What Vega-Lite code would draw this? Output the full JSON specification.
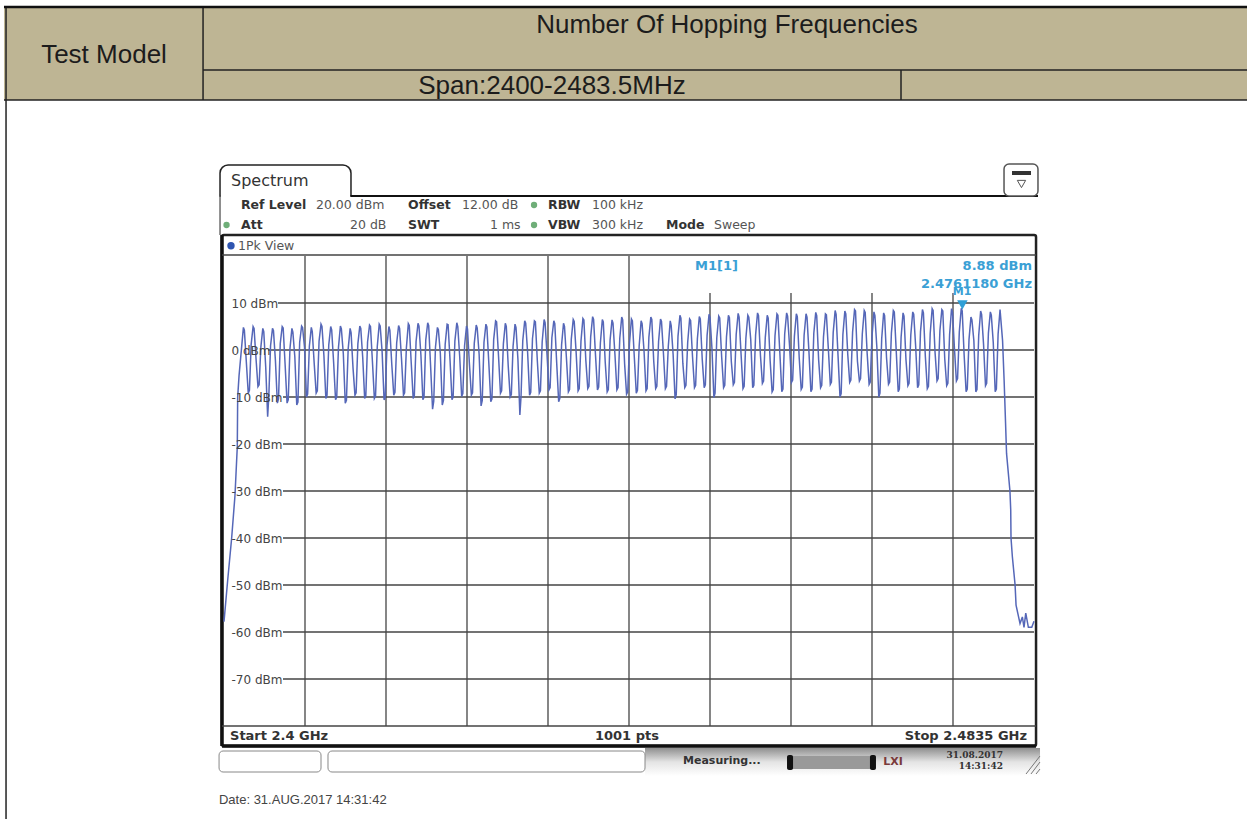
{"$schema":"https://vega.github.io/schema/vega-lite/v6.json","width":810,"height":470,"autosize":{"type":"none"},"padding":{"left":224,"top":256,"right":213,"bottom":93},"background":"#ffffff","view":{"stroke":null},
"datasets":{
"trace":[{"f":2.4,"p":-57.8},{"f":2.40038,"p":-49},{"f":2.40079,"p":-40},{"f":2.40113,"p":-31},{"f":2.40137,"p":-20.6},{"f":2.40141,"p":-10},{"f":2.40155,"p":-5.5},
{"f":2.402,"p":4.8},{"f":2.4021,"p":4.2},{"f":2.4023,"p":-2.5},{"f":2.4025,"p":-9.2},{"f":2.40262,"p":-8.6},{"f":2.4028,"p":1.2},
{"f":2.403,"p":5.0},{"f":2.4031,"p":4.6},{"f":2.4033,"p":-1.8},{"f":2.4035,"p":-7.8},{"f":2.40362,"p":-7.4},{"f":2.4038,"p":0.6},
{"f":2.404,"p":4.6},{"f":2.4041,"p":3.9},{"f":2.4043,"p":-3.6},{"f":2.4045,"p":-14.2},{"f":2.40462,"p":-9.8},{"f":2.4048,"p":0.9},
{"f":2.405,"p":4.6},{"f":2.4051,"p":4.1},{"f":2.4053,"p":-2.2},{"f":2.4055,"p":-11.3},{"f":2.40562,"p":-10.4},{"f":2.4058,"p":1.4},
{"f":2.406,"p":5.0},{"f":2.4061,"p":4.7},{"f":2.4063,"p":-3.1},{"f":2.4065,"p":-11.3},{"f":2.40662,"p":-10.6},{"f":2.4068,"p":0.3},
{"f":2.407,"p":4.6},{"f":2.4071,"p":3.8},{"f":2.4073,"p":-1.4},{"f":2.4075,"p":-11.7},{"f":2.40762,"p":-11.1},{"f":2.4078,"p":1.6},
{"f":2.408,"p":5.1},{"f":2.4081,"p":4.8},{"f":2.4083,"p":0.6},{"f":2.4085,"p":-10},{"f":2.40862,"p":-9.4},{"f":2.4088,"p":0.8},
{"f":2.409,"p":4.8},{"f":2.4091,"p":3.9},{"f":2.4093,"p":-2.9},{"f":2.4095,"p":-9.2},{"f":2.40962,"p":-8.7},{"f":2.4098,"p":1.9},
{"f":2.41,"p":5.5},{"f":2.4101,"p":5.0},{"f":2.4103,"p":-1.2},{"f":2.4105,"p":-10.3},{"f":2.41062,"p":-9.6},{"f":2.4108,"p":1.1},
{"f":2.411,"p":5.0},{"f":2.4111,"p":4.3},{"f":2.4113,"p":-2.6},{"f":2.4115,"p":-10.6},{"f":2.41162,"p":-10},{"f":2.4118,"p":0.5},
{"f":2.412,"p":5.1},{"f":2.4121,"p":4.5},{"f":2.4123,"p":-0.8},{"f":2.4125,"p":-11.3},{"f":2.41262,"p":-10.7},{"f":2.4128,"p":0.2},
{"f":2.413,"p":4.6},{"f":2.4131,"p":3.7},{"f":2.4133,"p":-3.8},{"f":2.4135,"p":-9.6},{"f":2.41362,"p":-9.1},{"f":2.4138,"p":1.3},
{"f":2.414,"p":5.1},{"f":2.4141,"p":4.6},{"f":2.4143,"p":-1.6},{"f":2.4145,"p":-10.3},{"f":2.41462,"p":-9.7},{"f":2.4148,"p":1.7},
{"f":2.415,"p":5.3},{"f":2.4151,"p":5.0},{"f":2.4153,"p":-2.4},{"f":2.4155,"p":-10.3},{"f":2.41562,"p":-9.8},{"f":2.4158,"p":0.7},
{"f":2.416,"p":5.5},{"f":2.4161,"p":5.1},{"f":2.4163,"p":-0.4},{"f":2.4165,"p":-10.6},{"f":2.41662,"p":-10.1},{"f":2.4168,"p":1.0},
{"f":2.417,"p":5.0},{"f":2.4171,"p":4.2},{"f":2.4173,"p":-3.2},{"f":2.4175,"p":-9.6},{"f":2.41762,"p":-9},{"f":2.4178,"p":1.5},
{"f":2.418,"p":5.2},{"f":2.4181,"p":4.6},{"f":2.4183,"p":-1.9},{"f":2.4185,"p":-9.6},{"f":2.41862,"p":-9.1},{"f":2.4188,"p":0.4},
{"f":2.419,"p":5.6},{"f":2.4191,"p":5.2},{"f":2.4193,"p":-2.7},{"f":2.4195,"p":-10.3},{"f":2.41962,"p":-9.7},{"f":2.4198,"p":1.8},
{"f":2.42,"p":5.7},{"f":2.4201,"p":5.1},{"f":2.4203,"p":-1.1},{"f":2.4205,"p":-10.6},{"f":2.42062,"p":-10},{"f":2.4208,"p":2.1},
{"f":2.421,"p":5.8},{"f":2.4211,"p":5.2},{"f":2.4213,"p":-3.5},{"f":2.4215,"p":-12.6},{"f":2.42162,"p":-10.9},{"f":2.4218,"p":0.6},
{"f":2.422,"p":4.8},{"f":2.4221,"p":4.3},{"f":2.4223,"p":-0.7},{"f":2.4225,"p":-11.7},{"f":2.42262,"p":-10.8},{"f":2.4228,"p":1.2},
{"f":2.423,"p":5.5},{"f":2.4231,"p":5.4},{"f":2.4233,"p":-2.1},{"f":2.4235,"p":-10.6},{"f":2.42362,"p":-10},{"f":2.4238,"p":1.9},
{"f":2.424,"p":5.8},{"f":2.4241,"p":5.0},{"f":2.4243,"p":-1.5},{"f":2.4245,"p":-9.9},{"f":2.42462,"p":-9.3},{"f":2.4248,"p":0.9},
{"f":2.425,"p":5.1},{"f":2.4251,"p":4.5},{"f":2.4253,"p":-3.0},{"f":2.4255,"p":-9.6},{"f":2.42562,"p":-9.1},{"f":2.4258,"p":1.4},
{"f":2.426,"p":5.3},{"f":2.4261,"p":4.7},{"f":2.4263,"p":-0.9},{"f":2.4265,"p":-11.9},{"f":2.42662,"p":-10.8},{"f":2.4268,"p":1.6},
{"f":2.427,"p":5.5},{"f":2.4271,"p":4.9},{"f":2.4273,"p":-2.8},{"f":2.4275,"p":-11},{"f":2.42762,"p":-10.4},{"f":2.4278,"p":2.2},
{"f":2.428,"p":6.2},{"f":2.4281,"p":6.0},{"f":2.4283,"p":-1.3},{"f":2.4285,"p":-9.2},{"f":2.42862,"p":-8.7},{"f":2.4288,"p":1.3},
{"f":2.429,"p":5.7},{"f":2.4291,"p":5.0},{"f":2.4293,"p":-3.4},{"f":2.4295,"p":-10},{"f":2.42962,"p":-9.5},{"f":2.4298,"p":0.8},
{"f":2.43,"p":5.5},{"f":2.4301,"p":4.8},{"f":2.4303,"p":-2.0},{"f":2.4305,"p":-13.8},{"f":2.43062,"p":-9.9},{"f":2.4308,"p":2.0},
{"f":2.431,"p":6.2},{"f":2.4311,"p":5.7},{"f":2.4313,"p":-0.6},{"f":2.4315,"p":-9.6},{"f":2.43162,"p":-9},{"f":2.4318,"p":2.4},
{"f":2.432,"p":6.2},{"f":2.4321,"p":6.0},{"f":2.4323,"p":-2.3},{"f":2.4325,"p":-9.2},{"f":2.43262,"p":-8.7},{"f":2.4328,"p":1.7},
{"f":2.433,"p":6.5},{"f":2.4331,"p":5.8},{"f":2.4333,"p":-1.0},{"f":2.4335,"p":-8.5},{"f":2.43362,"p":-8},{"f":2.4338,"p":2.6},
{"f":2.434,"p":6.2},{"f":2.4341,"p":5.6},{"f":2.4343,"p":-2.9},{"f":2.4345,"p":-11},{"f":2.43462,"p":-10.3},{"f":2.4348,"p":1.1},
{"f":2.435,"p":5.7},{"f":2.4351,"p":5.0},{"f":2.4353,"p":-1.7},{"f":2.4355,"p":-8.9},{"f":2.43562,"p":-8.4},{"f":2.4358,"p":2.3},
{"f":2.436,"p":6.5},{"f":2.4361,"p":6.1},{"f":2.4363,"p":-0.5},{"f":2.4365,"p":-8.7},{"f":2.43662,"p":-8.2},{"f":2.4368,"p":1.9},
{"f":2.437,"p":6.7},{"f":2.4371,"p":6.4},{"f":2.4373,"p":-2.2},{"f":2.4375,"p":-8.2},{"f":2.43762,"p":-7.7},{"f":2.4378,"p":2.8},
{"f":2.438,"p":7.1},{"f":2.4381,"p":6.5},{"f":2.4383,"p":-1.2},{"f":2.4385,"p":-8.5},{"f":2.43862,"p":-7.9},{"f":2.4388,"p":1.5},
{"f":2.439,"p":6.5},{"f":2.4391,"p":6.0},{"f":2.4393,"p":-2.6},{"f":2.4395,"p":-8.9},{"f":2.43962,"p":-8.4},{"f":2.4398,"p":2.1},
{"f":2.44,"p":6.4},{"f":2.4401,"p":5.7},{"f":2.4403,"p":-0.9},{"f":2.4405,"p":-8.5},{"f":2.44062,"p":-8},{"f":2.4408,"p":2.5},
{"f":2.441,"p":7.0},{"f":2.4411,"p":6.4},{"f":2.4413,"p":-3.0},{"f":2.4415,"p":-9.4},{"f":2.44162,"p":-8.9},{"f":2.4418,"p":1.4},
{"f":2.442,"p":6.6},{"f":2.4421,"p":6.2},{"f":2.4423,"p":-1.6},{"f":2.4425,"p":-9.2},{"f":2.44262,"p":-8.6},{"f":2.4428,"p":0.9},
{"f":2.443,"p":6.2},{"f":2.4431,"p":5.6},{"f":2.4433,"p":-0.2},{"f":2.4435,"p":-8.7},{"f":2.44362,"p":-8.2},{"f":2.4438,"p":2.7},
{"f":2.444,"p":7.0},{"f":2.4441,"p":6.5},{"f":2.4443,"p":-2.4},{"f":2.4445,"p":-8.2},{"f":2.44462,"p":-7.7},{"f":2.4448,"p":1.8},
{"f":2.445,"p":6.6},{"f":2.4451,"p":6.1},{"f":2.4453,"p":-0.7},{"f":2.4455,"p":-8.2},{"f":2.44562,"p":-7.7},{"f":2.4458,"p":0.7},
{"f":2.446,"p":6.2},{"f":2.4461,"p":5.2},{"f":2.4463,"p":-1.0},{"f":2.4465,"p":-10.4},{"f":2.44662,"p":-9.5},{"f":2.4468,"p":2.9},
{"f":2.447,"p":7.4},{"f":2.4471,"p":6.8},{"f":2.4473,"p":-2.8},{"f":2.4475,"p":-8},{"f":2.44762,"p":-7.5},{"f":2.4478,"p":1.6},
{"f":2.448,"p":6.6},{"f":2.4481,"p":6.3},{"f":2.4483,"p":-1.5},{"f":2.4485,"p":-8},{"f":2.44862,"p":-7.5},{"f":2.4488,"p":2.4},
{"f":2.449,"p":7.1},{"f":2.4491,"p":6.6},{"f":2.4493,"p":-2.0},{"f":2.4495,"p":-8},{"f":2.44962,"p":-7.4},{"f":2.4498,"p":3.1},
{"f":2.45,"p":7.6},{"f":2.4501,"p":6.9},{"f":2.4503,"p":0.4},{"f":2.4505,"p":-10.1},{"f":2.45062,"p":-9.2},{"f":2.4508,"p":2.6},
{"f":2.451,"p":7.2},{"f":2.4511,"p":6.8},{"f":2.4513,"p":-1.4},{"f":2.4515,"p":-8},{"f":2.45162,"p":-7.5},{"f":2.4518,"p":2.8},
{"f":2.452,"p":7.4},{"f":2.4521,"p":6.9},{"f":2.4523,"p":-2.5},{"f":2.4525,"p":-7.4},{"f":2.45262,"p":-6.9},{"f":2.4528,"p":3.3},
{"f":2.453,"p":7.8},{"f":2.4531,"p":7.0},{"f":2.4533,"p":-0.8},{"f":2.4535,"p":-8.2},{"f":2.45362,"p":-7.7},{"f":2.4538,"p":2.5},
{"f":2.454,"p":7.4},{"f":2.4541,"p":7.0},{"f":2.4543,"p":2.2},{"f":2.4545,"p":-8},{"f":2.45462,"p":-7.5},{"f":2.4548,"p":3.2},
{"f":2.455,"p":7.9},{"f":2.4551,"p":7.3},{"f":2.4553,"p":-1.1},{"f":2.4555,"p":-7.1},{"f":2.45562,"p":-6.6},{"f":2.4558,"p":2.7},
{"f":2.456,"p":7.4},{"f":2.4561,"p":6.8},{"f":2.4563,"p":-2.3},{"f":2.4565,"p":-8.9},{"f":2.45662,"p":-8.4},{"f":2.4568,"p":3.0},
{"f":2.457,"p":7.7},{"f":2.4571,"p":7.4},{"f":2.4573,"p":-0.6},{"f":2.4575,"p":-8.9},{"f":2.45762,"p":-8.3},{"f":2.4578,"p":3.4},
{"f":2.458,"p":7.9},{"f":2.4581,"p":7.2},{"f":2.4583,"p":0.9},{"f":2.4585,"p":-6.9},{"f":2.45862,"p":-6.4},{"f":2.4588,"p":2.9},
{"f":2.459,"p":7.7},{"f":2.4591,"p":7.1},{"f":2.4593,"p":-1.8},{"f":2.4595,"p":-8.4},{"f":2.45962,"p":-7.9},{"f":2.4598,"p":3.1},
{"f":2.46,"p":7.7},{"f":2.4601,"p":7.0},{"f":2.4603,"p":-0.4},{"f":2.4605,"p":-8.9},{"f":2.46062,"p":-8.3},{"f":2.4608,"p":3.5},
{"f":2.461,"p":8.0},{"f":2.4611,"p":7.3},{"f":2.4613,"p":-2.1},{"f":2.4615,"p":-8},{"f":2.46162,"p":-7.5},{"f":2.4618,"p":2.8},
{"f":2.462,"p":7.7},{"f":2.4621,"p":7.5},{"f":2.4623,"p":0.2},{"f":2.4625,"p":-7.3},{"f":2.46262,"p":-6.8},{"f":2.4628,"p":3.7},
{"f":2.463,"p":8.4},{"f":2.4631,"p":7.6},{"f":2.4633,"p":-1.3},{"f":2.4635,"p":-10},{"f":2.46362,"p":-9.3},{"f":2.4638,"p":3.3},
{"f":2.464,"p":8.3},{"f":2.4641,"p":7.7},{"f":2.4643,"p":-0.9},{"f":2.4645,"p":-6.9},{"f":2.46462,"p":-6.4},{"f":2.4648,"p":3.8},
{"f":2.465,"p":8.6},{"f":2.4651,"p":8.3},{"f":2.4653,"p":-2.4},{"f":2.4655,"p":-6.6},{"f":2.46562,"p":-6.1},{"f":2.4658,"p":3.4},
{"f":2.466,"p":8.4},{"f":2.4661,"p":8.0},{"f":2.4663,"p":-0.7},{"f":2.4665,"p":-7.3},{"f":2.46662,"p":-6.8},{"f":2.4668,"p":2.9},
{"f":2.467,"p":8.1},{"f":2.4671,"p":7.3},{"f":2.4673,"p":0.6},{"f":2.4675,"p":-10},{"f":2.46762,"p":-9.2},{"f":2.4678,"p":2.4},
{"f":2.468,"p":7.9},{"f":2.4681,"p":7.3},{"f":2.4683,"p":-1.7},{"f":2.4685,"p":-7.3},{"f":2.46862,"p":-6.8},{"f":2.4688,"p":3.6},
{"f":2.469,"p":8.4},{"f":2.4691,"p":8.1},{"f":2.4693,"p":-0.3},{"f":2.4695,"p":-8.9},{"f":2.46962,"p":-8.3},{"f":2.4698,"p":2.7},
{"f":2.47,"p":7.9},{"f":2.4701,"p":7.2},{"f":2.4703,"p":-2.0},{"f":2.4705,"p":-7.6},{"f":2.47062,"p":-7.1},{"f":2.4708,"p":3.2},
{"f":2.471,"p":8.1},{"f":2.4711,"p":7.6},{"f":2.4713,"p":0.8},{"f":2.4715,"p":-8},{"f":2.47162,"p":-7.4},{"f":2.4718,"p":3.9},
{"f":2.472,"p":8.6},{"f":2.4721,"p":7.9},{"f":2.4723,"p":-1.4},{"f":2.4725,"p":-8.2},{"f":2.47262,"p":-7.7},{"f":2.4728,"p":3.5},
{"f":2.473,"p":8.8},{"f":2.4731,"p":8.4},{"f":2.4733,"p":-0.5},{"f":2.4735,"p":-6.6},{"f":2.47362,"p":-6.1},{"f":2.4738,"p":4.1},
{"f":2.474,"p":8.6},{"f":2.4741,"p":8.3},{"f":2.4743,"p":-1.9},{"f":2.4745,"p":-7.6},{"f":2.47462,"p":-7.1},{"f":2.4748,"p":3.3},
{"f":2.475,"p":8.8},{"f":2.4751,"p":8.0},{"f":2.4753,"p":0.3},{"f":2.4755,"p":-6.6},{"f":2.47562,"p":-6.1},{"f":2.4758,"p":3.8},
{"f":2.476,"p":8.88},{"f":2.4761,"p":8.3},{"f":2.4763,"p":-1.1},{"f":2.4765,"p":-8.9},{"f":2.47662,"p":-8.3},{"f":2.4768,"p":2.2},
{"f":2.477,"p":7.0},{"f":2.4771,"p":6.4},{"f":2.4773,"p":2.0},{"f":2.4775,"p":-8.9},{"f":2.47762,"p":-8.4},{"f":2.4778,"p":3.1},
{"f":2.478,"p":8.3},{"f":2.4781,"p":7.6},{"f":2.4783,"p":1.2},{"f":2.4785,"p":-7.6},{"f":2.47862,"p":-7.1},{"f":2.4788,"p":3.6},
{"f":2.479,"p":8.1},{"f":2.4791,"p":7.4},{"f":2.4793,"p":1.6},{"f":2.4795,"p":-8.9},{"f":2.47962,"p":-8.3},{"f":2.4798,"p":3.4},
{"f":2.48,"p":8.6},{"f":2.48026,"p":2},{"f":2.48042,"p":-6.5},{"f":2.48057,"p":-15.7},{"f":2.48067,"p":-22},{"f":2.48102,"p":-30},{"f":2.4811,"p":-34},{"f":2.48113,"p":-40},{"f":2.48127,"p":-44},{"f":2.48155,"p":-50},{"f":2.48165,"p":-54.3},{"f":2.48206,"p":-58.2},{"f":2.4823,"p":-56.8},{"f":2.48247,"p":-59},{"f":2.48265,"p":-56},{"f":2.48292,"p":-59},{"f":2.48327,"p":-59},{"f":2.4835,"p":-57.7}],
"grid":[{"f":2.40835,"f2":2.40835,"p":20,"p2":-80},{"f":2.4167,"f2":2.4167,"p":20,"p2":-80},{"f":2.42505,"f2":2.42505,"p":20,"p2":-80},{"f":2.4334,"f2":2.4334,"p":20,"p2":-80},{"f":2.44175,"f2":2.44175,"p":20,"p2":-80},{"f":2.4501,"f2":2.4501,"p":12.13,"p2":-80},{"f":2.45845,"f2":2.45845,"p":12.13,"p2":-80},{"f":2.4668,"f2":2.4668,"p":12.13,"p2":-80},{"f":2.47515,"f2":2.47515,"p":12.13,"p2":-80},
{"f":2.40557,"f2":2.4835,"p":10,"p2":10},{"f":2.40454,"f2":2.4835,"p":0,"p2":0},{"f":2.40608,"f2":2.4835,"p":-10,"p2":-10},{"f":2.40608,"f2":2.4835,"p":-20,"p2":-20},{"f":2.40608,"f2":2.4835,"p":-30,"p2":-30},{"f":2.40608,"f2":2.4835,"p":-40,"p2":-40},{"f":2.40608,"f2":2.4835,"p":-50,"p2":-50},{"f":2.40608,"f2":2.4835,"p":-60,"p2":-60},{"f":2.40608,"f2":2.4835,"p":-70,"p2":-70},{"f":2.39979,"f2":2.48371,"p":20.21,"p2":20.21},{"f":2.39979,"f2":2.48371,"p":-80,"p2":-80}]
},
"encoding":{"x":{"field":"f","type":"quantitative","axis":null,"scale":{"domain":[2.4,2.4835],"nice":false,"zero":false}},"y":{"field":"p","type":"quantitative","scale":{"domain":[-80,20],"nice":false,"zero":false},"axis":{"values":[10,0,-10,-20,-30,-40,-50,-60,-70],"labelExpr":"datum.value + ' dBm'","title":null,"grid":false,"ticks":false,"domain":false,"labelAlign":"left","labelPadding":-7,"labelFont":"DejaVu Sans","labelFontSize":12,"labelColor":"#444444","zindex":1}}},
"layer":[
{"data":{"values":[{"f":2.37732,"f2":2.50546,"p":72.77,"p2":53.19}]},"mark":{"type":"rect","color":"#BEB594"},"encoding":{"x2":{"field":"f2"},"y2":{"field":"p2"}}},
{"data":{"values":[{"f":2.39784,"f2":2.50546,"p":59.57,"p2":59.57},{"f":2.37732,"f2":2.50546,"p":53.19,"p2":53.19},{"f":2.39784,"f2":2.39784,"p":72.77,"p2":53.19},{"f":2.46979,"f2":2.46979,"p":59.57,"p2":53.19},{"f":2.37753,"f2":2.37753,"p":72.77,"p2":-99.78}]},"mark":{"type":"rule","color":"#222222","strokeWidth":1.5},"encoding":{"x2":{"field":"f2"},"y2":{"field":"p2"}}},
{"data":{"values":[{"f":2.37732,"f2":2.50546,"p":72.98,"p2":72.98}]},"mark":{"type":"rule","color":"#111111","strokeWidth":2.5},"encoding":{"x2":{"field":"f2"},"y2":{"field":"p2"}}},
{"data":{"values":[{"f":2.45185,"p":69.15,"t":"Number Of Hopping Frequencies"},{"f":2.38763,"p":62.77,"t":"Test Model"},{"f":2.43381,"p":56.17,"t":"Span:2400-2483.5MHz"}]},"mark":{"type":"text","font":"Liberation Sans","fontSize":26,"color":"#1c1c1c","align":"center","baseline":"middle"},"encoding":{"text":{"field":"t"}}},
{"data":{"values":[{"f":2.39959,"f2":2.41309,"p":39.36,"p2":32.77}]},"mark":{"type":"rect","fill":"#ffffff","stroke":"#222222","strokeWidth":1.5,"cornerRadiusTopLeft":8,"cornerRadiusTopRight":8},"encoding":{"x2":{"field":"f2"},"y2":{"field":"p2"}}},
{"data":{"values":[{"f":2.39969,"f2":2.41299,"p":32.77,"p2":32.77}]},"mark":{"type":"rule","color":"#ffffff","strokeWidth":2.5},"encoding":{"x2":{"field":"f2"},"y2":{"field":"p2"}}},
{"data":{"values":[{"f":2.39959,"f2":2.39959,"p":33.2,"p2":24.47}]},"mark":{"type":"rule","color":"#555555","strokeWidth":1.3},"encoding":{"x2":{"field":"f2"},"y2":{"field":"p2"}}},
{"data":{"values":[{"f":2.41309,"f2":2.48391,"p":32.77,"p2":32.77}]},"mark":{"type":"rule","color":"#111111","strokeWidth":2},"encoding":{"x2":{"field":"f2"},"y2":{"field":"p2"}}},
{"data":{"values":[{"f":2.39979,"f2":2.48371,"p":24.47,"p2":-84.26}]},"mark":{"type":"rect","fill":"#ffffff","stroke":"#222222","strokeWidth":2.5,"cornerRadius":2},"encoding":{"x2":{"field":"f2"},"y2":{"field":"p2"}}},
{"data":{"values":[{"f":2.39979,"f2":2.39979,"p":24.47,"p2":-84.26},{"f":2.39979,"f2":2.48371,"p":-84.26,"p2":-84.26}]},"mark":{"type":"rule","color":"#111111","strokeWidth":3.5},"encoding":{"x2":{"field":"f2"},"y2":{"field":"p2"}}},
{"data":{"values":[{"f":2.48041,"f2":2.48391,"p":39.57,"p2":32.77}]},"mark":{"type":"rect","fill":"#ffffff","stroke":"#555555","strokeWidth":1.5,"cornerRadius":5},"encoding":{"x2":{"field":"f2"},"y2":{"field":"p2"}}},
{"data":{"values":[{"f":2.48123,"f2":2.48319,"p":38.09,"p2":37.23}]},"mark":{"type":"rect","color":"#333333"},"encoding":{"x2":{"field":"f2"},"y2":{"field":"p2"}}},
{"data":{"values":[{"f":2.48221,"p":35.32}]},"mark":{"type":"point","shape":"triangle-down","size":70,"stroke":"#555555","strokeWidth":1,"fill":"#ffffff","opacity":1}},
{"data":{"values":[{"f":2.4434,"f2":2.48412,"p":-84.68,"p2":-90.64}]},"mark":{"type":"rect","color":{"gradient":"linear","x1":0,"y1":0,"x2":0,"y2":1,"stops":[{"offset":0,"color":"#8f8f8f"},{"offset":0.5,"color":"#e4e4e4"},{"offset":1,"color":"#ffffff"}]}},"encoding":{"x2":{"field":"f2"},"y2":{"field":"p2"}}},
{"data":{"values":[{"f":2.39949,"f2":2.41,"p":-85.32,"p2":-89.79},{"f":2.41072,"f2":2.4434,"p":-85.32,"p2":-89.79}]},"mark":{"type":"rect","fill":"#ffffff","stroke":"#888888","strokeWidth":1,"cornerRadius":4},"encoding":{"x2":{"field":"f2"},"y2":{"field":"p2"}}},
{"data":{"values":[{"f":2.45824,"f2":2.46701,"p":-86.38,"p2":-89.15}]},"mark":{"type":"rect","color":"#999999"},"encoding":{"x2":{"field":"f2"},"y2":{"field":"p2"}}},
{"data":{"values":[{"f":2.45804,"f2":2.45866,"p":-86.17,"p2":-89.36},{"f":2.46659,"f2":2.46721,"p":-86.17,"p2":-89.36}]},"mark":{"type":"rect","color":"#111111","cornerRadius":2},"encoding":{"x2":{"field":"f2"},"y2":{"field":"p2"}}},
{"data":{"values":[{"f":2.48268,"f2":2.48412,"p":-90.21,"p2":-86.38},{"f":2.48319,"f2":2.48412,"p":-90.21,"p2":-87.66},{"f":2.48371,"f2":2.48412,"p":-90.21,"p2":-89.15}]},"mark":{"type":"rule","color":"#777777","strokeWidth":1},"encoding":{"x2":{"field":"f2"},"y2":{"field":"p2"}}},
{"data":{"name":"grid"},"mark":{"type":"rule","color":"#444444","strokeWidth":1.3},"encoding":{"x2":{"field":"f2"},"y2":{"field":"p2"}}},
{"data":{"name":"trace"},"mark":{"type":"line","color":"#5567b8","strokeWidth":1.5,"interpolate":"linear"}},
{"data":{"values":[{"f":2.476118,"p":9.6}]},"mark":{"type":"point","shape":"triangle-down","size":110,"filled":true,"color":"#2f9fd6","opacity":1}},
{"data":{"values":[{"f":2.40072,"p":35.96,"t":"Spectrum"}]},"mark":{"type":"text","font":"DejaVu Sans","fontSize":16,"fontWeight":500,"color":"#333333","align":"left","baseline":"middle"},"encoding":{"text":{"field":"t"}}},
{"data":{"values":[{"f":2.40175,"p":30.85,"t":"Ref Level"},{"f":2.41897,"p":30.85,"t":"Offset"},{"f":2.4334,"p":30.85,"t":"RBW"},{"f":2.40175,"p":26.6,"t":"Att"},{"f":2.41897,"p":26.6,"t":"SWT"},{"f":2.4334,"p":26.6,"t":"VBW"},{"f":2.44556,"p":26.6,"t":"Mode"}]},"mark":{"type":"text","font":"DejaVu Sans","fontSize":12.5,"fontWeight":"bold","color":"#333333","align":"left","baseline":"middle"},"encoding":{"text":{"field":"t"}}},
{"data":{"values":[{"f":2.40948,"p":30.85,"t":"20.00 dBm"},{"f":2.42453,"p":30.85,"t":"12.00 dB"},{"f":2.43794,"p":30.85,"t":"100 kHz"},{"f":2.41299,"p":26.6,"t":"20 dB"},{"f":2.42742,"p":26.6,"t":"1 ms"},{"f":2.43794,"p":26.6,"t":"300 kHz"},{"f":2.45051,"p":26.6,"t":"Sweep"},{"f":2.40144,"p":22.2,"t":"1Pk View"}]},"mark":{"type":"text","font":"DejaVu Sans","fontSize":12.5,"color":"#555555","align":"left","baseline":"middle"},"encoding":{"text":{"field":"t"}}},
{"data":{"values":[{"f":2.43196,"p":30.85},{"f":2.43196,"p":26.6},{"f":2.40026,"p":26.6}]},"mark":{"type":"point","shape":"circle","size":40,"filled":true,"color":"#6fae78","opacity":1}},
{"data":{"values":[{"f":2.40072,"p":22.19}]},"mark":{"type":"point","shape":"circle","size":55,"filled":true,"color":"#2f55b0","opacity":1}},
{"data":{"values":[{"f":2.44855,"p":17.87,"t":"M1[1]"}]},"mark":{"type":"text","font":"DejaVu Sans","fontSize":13,"fontWeight":"bold","color":"#3aa0d5","align":"left","baseline":"middle"},"encoding":{"text":{"field":"t"}}},
{"data":{"values":[{"f":2.48329,"p":17.87,"t":"8.88 dBm"},{"f":2.48329,"p":14.04,"t":"2.4761180 GHz"}]},"mark":{"type":"text","font":"DejaVu Sans","fontSize":13,"fontWeight":"bold","color":"#3aa0d5","align":"right","baseline":"middle"},"encoding":{"text":{"field":"t"}}},
{"data":{"values":[{"f":2.47608,"p":12.34,"t":"M1"}]},"mark":{"type":"text","font":"DejaVu Sans","fontSize":11,"fontWeight":"bold","color":"#3aa0d5","align":"center","baseline":"middle"},"encoding":{"text":{"field":"t"}}},
{"data":{"values":[{"f":2.40062,"p":-82.13,"t":"Start 2.4 GHz"}]},"mark":{"type":"text","font":"DejaVu Sans","fontSize":13,"fontWeight":"bold","color":"#333333","align":"left","baseline":"middle"},"encoding":{"text":{"field":"t"}}},
{"data":{"values":[{"f":2.44154,"p":-82.13,"t":"1001 pts"}]},"mark":{"type":"text","font":"DejaVu Sans","fontSize":13,"fontWeight":"bold","color":"#333333","align":"center","baseline":"middle"},"encoding":{"text":{"field":"t"}}},
{"data":{"values":[{"f":2.48278,"p":-82.13,"t":"Stop 2.4835 GHz"}]},"mark":{"type":"text","font":"DejaVu Sans","fontSize":13,"fontWeight":"bold","color":"#333333","align":"right","baseline":"middle"},"encoding":{"text":{"field":"t"}}},
{"data":{"values":[{"f":2.44732,"p":-87.45,"t":"Measuring..."}]},"mark":{"type":"text","font":"DejaVu Sans","fontSize":11,"fontWeight":"bold","color":"#333333","align":"left","baseline":"middle"},"encoding":{"text":{"field":"t"}}},
{"data":{"values":[{"f":2.46896,"p":-87.66,"t":"LXI"}]},"mark":{"type":"text","font":"DejaVu Sans","fontSize":11,"fontWeight":"bold","color":"#7a3a3a","align":"center","baseline":"middle"},"encoding":{"text":{"field":"t"}}},
{"data":{"values":[{"f":2.4803,"p":-86.17,"t":"31.08.2017"},{"f":2.4803,"p":-88.51,"t":"14:31:42"}]},"mark":{"type":"text","font":"DejaVu Serif","fontSize":9,"fontWeight":"bold","color":"#333333","align":"right","baseline":"middle"},"encoding":{"text":{"field":"t"}}},
{"data":{"values":[{"f":2.39948,"p":-95.74,"t":"Date: 31.AUG.2017  14:31:42"}]},"mark":{"type":"text","font":"Liberation Sans","fontSize":13,"color":"#444444","align":"left","baseline":"middle"},"encoding":{"text":{"field":"t"}}}
]}
